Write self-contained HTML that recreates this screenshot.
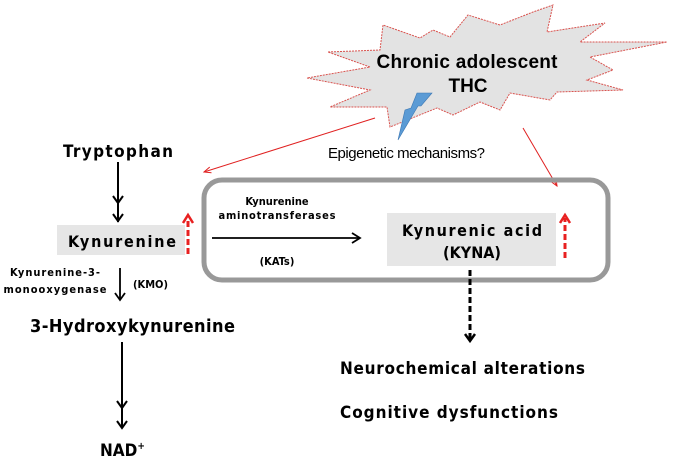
<!DOCTYPE html>
<html><head><meta charset="utf-8"><style>html,body{margin:0;padding:0;background:#fff}svg{display:block}</style></head>
<body>
<svg width="675" height="463" viewBox="0 0 675 463" xmlns="http://www.w3.org/2000/svg" font-family="DejaVu Sans Condensed, DejaVu Sans, Liberation Sans, sans-serif">
<defs>
<marker id="rh" markerWidth="8" markerHeight="8" refX="7" refY="4" orient="auto" markerUnits="userSpaceOnUse"><path d="M0,1 L7,4 L0,7" fill="none" stroke="#e02020" stroke-width="1"/></marker>
</defs>
<polygon points="328,52 380,50 383,25 420,38 433,30 450,37 468,15 500,25 533,12 553,5 547,32 605,23 580,42 667,42 590,57 613,70 587,80 623,90 557,92 550,100 510,93 500,110 480,102 453,115 437,108 390,127 387,107 330,107 370,90 307,78 370,67" fill="#e3e3e3" stroke="#d9534f" stroke-width="1" stroke-dasharray="2,1"/>
<polygon points="417,93 432,93 421,106 418,106 398,140 405,110 411,108" fill="#5b9bd5" stroke="#3c78b4" stroke-width="0.6"/>
<text x="467" y="68" font-size="19" font-weight="bold" text-anchor="middle" textLength="181" font-family="Liberation Sans, sans-serif">Chronic adolescent</text>
<text x="468" y="92" font-size="19" font-weight="bold" text-anchor="middle" font-family="Liberation Sans, sans-serif">THC</text>
<text x="328" y="158" font-size="15" textLength="157" font-family="Liberation Sans, sans-serif">Epigenetic mechanisms?</text>
<line x1="375" y1="118" x2="204" y2="172" stroke="#e02020" stroke-width="1" marker-end="url(#rh)"/>
<line x1="523" y1="128" x2="557" y2="186" stroke="#e02020" stroke-width="1" marker-end="url(#rh)"/>
<rect x="204" y="180" width="404" height="100" rx="18" fill="none" stroke="#999" stroke-width="5"/>
<text x="118" y="157" font-size="17" font-weight="bold" text-anchor="middle" textLength="110">Tryptophan</text>
<line x1="118" y1="162" x2="118" y2="222" stroke="#000" stroke-width="2"/>
<path d="M113,196 L118,203 L123,196 M113,214 L118,221 L123,214" fill="none" stroke="#000" stroke-width="2"/>
<rect x="57" y="225" width="128" height="30" fill="#e6e6e6"/>
<text x="122" y="247" font-size="16" font-weight="bold" text-anchor="middle" textLength="108">Kynurenine</text>
<line x1="188" y1="254" x2="188" y2="218" stroke="#e82020" stroke-width="3" stroke-dasharray="6,3"/>
<path d="M183,223 L188,215 L193,223" fill="none" stroke="#e82020" stroke-width="2.5"/>
<text x="277" y="205" font-size="11" font-weight="bold" text-anchor="middle">Kynurenine</text>
<text x="277" y="219" font-size="11" font-weight="bold" text-anchor="middle" textLength="117">aminotransferases</text>
<line x1="212" y1="238" x2="360" y2="238" stroke="#000" stroke-width="1.8"/>
<path d="M352,233 L360,238 L352,243" fill="none" stroke="#000" stroke-width="1.8"/>
<text x="277" y="265" font-size="11" font-weight="bold" text-anchor="middle">(KATs)</text>
<rect x="387" y="213" width="169" height="53" fill="#e6e6e6"/>
<text x="472" y="236" font-size="16" font-weight="bold" text-anchor="middle" textLength="140">Kynurenic acid</text>
<text x="472" y="258" font-size="16" font-weight="bold" text-anchor="middle">(KYNA)</text>
<line x1="565" y1="258" x2="565" y2="218" stroke="#e82020" stroke-width="3" stroke-dasharray="6,3"/>
<path d="M560,223 L565,215 L570,223" fill="none" stroke="#e82020" stroke-width="2.5"/>
<line x1="470" y1="270" x2="470" y2="340" stroke="#000" stroke-width="3" stroke-dasharray="6,3"/>
<path d="M465,334 L470,341 L475,334" fill="none" stroke="#000" stroke-width="2.5"/>
<text x="340" y="374" font-size="17" font-weight="bold" textLength="245">Neurochemical alterations</text>
<text x="340" y="418" font-size="17" font-weight="bold" textLength="218">Cognitive dysfunctions</text>
<text x="55" y="276" font-size="11" font-weight="bold" text-anchor="middle" textLength="90">Kynurenine-3-</text>
<text x="55" y="293" font-size="11" font-weight="bold" text-anchor="middle" textLength="103">monooxygenase</text>
<line x1="120" y1="268" x2="120" y2="300" stroke="#000" stroke-width="1.8"/>
<path d="M115,293 L120,300 L125,293" fill="none" stroke="#000" stroke-width="1.8"/>
<text x="133" y="288" font-size="11" font-weight="bold">(KMO)</text>
<text x="30" y="332" font-size="18" font-weight="bold" textLength="205">3-Hydroxykynurenine</text>
<line x1="122" y1="342" x2="122" y2="428" stroke="#000" stroke-width="2"/>
<path d="M117,401 L122,408 L127,401 M117,421 L122,428 L127,421" fill="none" stroke="#000" stroke-width="2"/>
<text x="100" y="456" font-size="17" font-weight="bold">NAD<tspan font-size="10" dy="-7">+</tspan></text>
</svg>
</body></html>
